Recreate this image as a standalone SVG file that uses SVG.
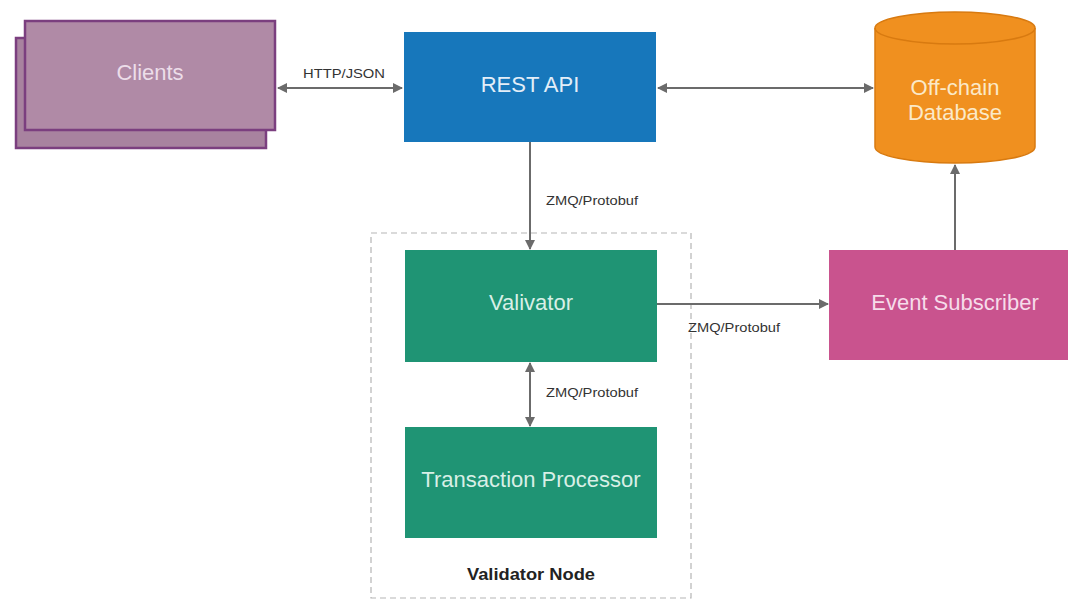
<svg xmlns="http://www.w3.org/2000/svg" width="1068" height="600" viewBox="0 0 1068 600">
  <defs>
    <marker id="arrow" viewBox="0 0 10 10" refX="9" refY="5" markerWidth="10" markerHeight="10" markerUnits="userSpaceOnUse" orient="auto-start-reverse">
      <path d="M0,0 L10,5 L0,10 z" fill="#6b6b6b"/>
    </marker>
  </defs>
  <style>
    text { font-family: "Liberation Sans", Arial, sans-serif; }
    .node-label { font-size: 22px; text-anchor: middle; }
    .edge-label { font-size: 12px; fill: #333; }
    .edge { stroke: #6b6b6b; stroke-width: 2; fill: none; }
  </style>
  <rect width="1068" height="600" fill="#ffffff"/>

  <!-- Validator Node container -->
  <g id="validator-node">
    <rect x="371" y="233" width="320" height="365" fill="none" stroke="#b5b5b5" stroke-width="1.2" stroke-dasharray="6,4"/>
    <text x="531" y="580" text-anchor="middle" font-size="16" font-weight="bold" fill="#222" textLength="128" lengthAdjust="spacingAndGlyphs">Validator Node</text>
  </g>

  <!-- Clients (stacked) -->
  <g id="clients">
    <rect x="16" y="38" width="250" height="110" fill="#a8839f" stroke="#7b3f7f" stroke-width="2.5"/>
    <rect x="25" y="21" width="250" height="109" fill="#b08aa6" stroke="#7b3f7f" stroke-width="2.5"/>
    <text class="node-label" x="150" y="80" fill="#ecdde9">Clients</text>
  </g>

  <!-- REST API -->
  <g id="rest-api">
    <rect x="404" y="32" width="252" height="110" fill="#1777bb"/>
    <text class="node-label" x="530" y="92" fill="#e3eef8">REST API</text>
  </g>

  <!-- Off-chain Database -->
  <g id="offchain-db">
    <path d="M875,28 L875,147 A80,16 0 0 0 1035,147 L1035,28 A80,16 0 0 0 875,28 z" fill="#f0901f" stroke="#d87a10" stroke-width="1.5"/>
    <path d="M875,28 A80,16 0 0 0 1035,28" fill="none" stroke="#d87a10" stroke-width="1.5"/>
    <text class="node-label" x="955" y="95" fill="#fbe9c8">Off-chain</text>
    <text class="node-label" x="955" y="120" fill="#fbe9c8">Database</text>
  </g>

  <!-- Valivator -->
  <g id="valivator">
    <rect x="405" y="250" width="252" height="112" fill="#1f9474"/>
    <text class="node-label" x="531" y="310" fill="#d8efe6">Valivator</text>
  </g>

  <!-- Transaction Processor -->
  <g id="transaction-processor">
    <rect x="405" y="427" width="252" height="111" fill="#1f9474"/>
    <text class="node-label" x="531" y="487" fill="#d8efe6">Transaction Processor</text>
  </g>

  <!-- Event Subscriber -->
  <g id="event-subscriber">
    <rect x="829" y="250" width="240" height="110" fill="#c9538e"/>
    <text class="node-label" x="955" y="310" fill="#f6dcea">Event Subscriber</text>
  </g>

  <!-- Connectors -->
  <g id="connectors">
    <line class="edge" x1="278" y1="88" x2="402" y2="88" marker-start="url(#arrow)" marker-end="url(#arrow)"/>
    <text class="edge-label" x="303" y="78" textLength="82" lengthAdjust="spacingAndGlyphs">HTTP/JSON</text>

    <line class="edge" x1="658" y1="88" x2="873" y2="88" marker-start="url(#arrow)" marker-end="url(#arrow)"/>

    <line class="edge" x1="530" y1="142" x2="530" y2="249" marker-end="url(#arrow)"/>
    <text class="edge-label" x="546" y="205" textLength="92" lengthAdjust="spacingAndGlyphs">ZMQ/Protobuf</text>

    <line class="edge" x1="530" y1="363" x2="530" y2="426" marker-start="url(#arrow)" marker-end="url(#arrow)"/>
    <text class="edge-label" x="546" y="397" textLength="92" lengthAdjust="spacingAndGlyphs">ZMQ/Protobuf</text>

    <line class="edge" x1="657" y1="304" x2="828" y2="304" marker-end="url(#arrow)"/>
    <text class="edge-label" x="688" y="332" textLength="92" lengthAdjust="spacingAndGlyphs">ZMQ/Protobuf</text>

    <line class="edge" x1="955" y1="250" x2="955" y2="165" marker-end="url(#arrow)"/>
  </g>
</svg>
